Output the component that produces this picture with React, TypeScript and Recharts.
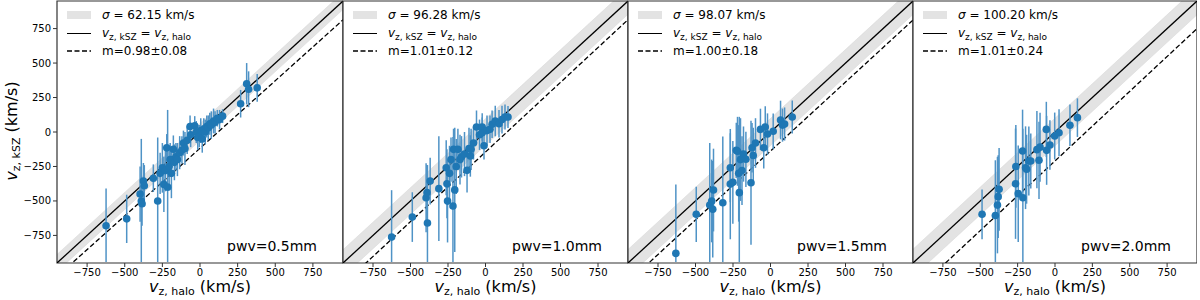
import React from 'react';
import { ComposedChart, Scatter, Line, Area, XAxis, YAxis, ErrorBar, ReferenceArea } from 'recharts';

// ---------- data ----------
const axisTicks = [-750, -500, -250, 0, 250, 500, 750];
const pwvLabels = ['pwv=0.5mm', 'pwv=1.0mm', 'pwv=1.5mm', 'pwv=2.0mm'];
const sigmaValues = [62.15, 96.28, 98.07, 100.2];
const sigmaLabels = ['62.15', '96.28', '98.07', '100.20'];
const slopeLabels = ['m=0.98±0.08', 'm=1.01±0.12', 'm=1.00±0.18', 'm=1.01±0.24'];
const fitSlopes = [0.98, 1.01, 1.0, 1.01];
const fitIntercepts = [-118, -145, -138, -210];

const p1Halo = [-624, -487, -398, -390, -385, -376, -370, -310, -281, -265, -250, -240, -230, -221, -215, -205, -198, -190, -177, -170, -160, -150, -135, -120, -110, -100, -85, -66, -62, -35, -25, -15, -5, 5, 15, 25, 35, 45, 55, 65, 75, 90, 100, 115, 130, 150, 270, 310, 323, 380];
const p1Ksz = [-680, -630, -450, -500, -520, -355, -390, -335, -500, -300, -260, -380, -280, -115, -400, -250, -200, -300, -125, -220, -180, -200, -150, -130, -80, -120, -60, 40, -20, 45, 0, -40, -30, 10, -50, 20, 0, 40, 30, 60, 50, 80, 70, 100, 90, 115, 205, 350, 310, 320];
const p1Err = [270, 175, 200, 450, 160, 130, 150, 100, 460, 150, 180, 200, 150, 100, 560, 150, 120, 180, 100, 130, 100, 120, 120, 100, 90, 120, 100, 80, 90, 70, 80, 90, 80, 90, 100, 80, 90, 80, 90, 80, 100, 90, 80, 60, 70, 50, 100, 150, 130, 100];

const p2Halo = [-626, -488, -396, -390, -387, -369, -311, -262, -257, -253, -240, -230, -217, -213, -205, -195, -184, -170, -160, -140, -123, -110, -101, -96, -80, -60, -40, -22, -22, -10, 10, 30, 44, 65, 90, 110, 130, 150];
const p2Ksz = [-762, -617, -477, -440, -660, -356, -411, -259, -376, -501, -300, -200, -537, -126, -420, -250, -126, -200, -180, -160, -278, -120, -174, -126, -80, 36, -20, 36, -5, -100, 10, 20, 56, 80, 60, 90, 109, 109];
const p2Err = [340, 180, 250, 200, 420, 170, 380, 200, 250, 300, 200, 160, 500, 150, 450, 200, 150, 180, 150, 160, 160, 150, 150, 150, 120, 120, 110, 100, 110, 100, 110, 100, 100, 110, 100, 100, 90, 80];

const p3Halo = [-631, -495, -405, -392, -385, -380, -318, -268, -268, -251, -228, -220, -212, -208, -200, -190, -180, -164, -130, -123, -115, -100, -67, -45, -35, -20, 18, 67, 80, 94, 145];
const p3Ksz = [-880, -597, -530, -500, -560, -421, -513, -259, -378, -365, -133, -140, -300, -440, -200, -280, -160, -198, -368, -114, -170, -80, 19, -114, 36, -15, 5, 87, 50, 58, 109];
const p3Err = [500, 200, 450, 300, 350, 300, 480, 250, 400, 300, 200, 250, 350, 550, 300, 250, 200, 200, 450, 180, 200, 180, 150, 150, 150, 150, 130, 140, 120, 120, 120];

const p4Halo = [-488, -399, -385, -380, -374, -264, -262, -246, -217, -215, -197, -190, -175, -162, -121, -107, -100, -58, -56, -34, -2, 27, 100, 150];
const p4Ksz = [-597, -605, -530, -469, -416, -375, -250, -447, -138, -477, -259, -270, -210, -210, -128, -205, -110, 19, -133, -94, -29, -5, 49, 104];
const p4Err = [180, 400, 350, 300, 300, 400, 300, 350, 300, 500, 300, 250, 250, 200, 280, 280, 250, 200, 250, 180, 170, 170, 150, 140];

const haloSets = [p1Halo, p2Halo, p3Halo, p4Halo];
const kszSets = [p1Ksz, p2Ksz, p3Ksz, p4Ksz];
const errSets = [p1Err, p2Err, p3Err, p4Err];

// ---------- layout ----------
const FONT = "'DejaVu Sans', sans-serif";
const BLUE = '#1f77b4';
const ERR_BLUE = '#4f93c6';
const SPINE = '#333333';
const BAND = '#e3e3e3';
const CHART_H = 300;
const MARGIN_TOP = 1;
const X_AXIS_H = 37;
const PLOT_H = CHART_H - X_AXIS_H - MARGIN_TOP;
const LIM = 950;

const panelGeom = [
  { chartLeft: 0, yAxisW: 57, plotW: 286 },
  { chartLeft: 337, yAxisW: 6, plotW: 285 },
  { chartLeft: 622, yAxisW: 6, plotW: 285 },
  { chartLeft: 907, yAxisW: 6, plotW: 284 },
];

const fmt = (v: number) => (v < 0 ? '\u2212' + Math.abs(v) : String(v));

const Dot = (p: any) => <circle cx={p.cx} cy={p.cy} r={3.8} fill={BLUE} />;

function Panel({ idx }: { idx: number }) {
  const g = panelGeom[idx];
  const s = sigmaValues[idx];
  const m = fitSlopes[idx];
  const b = fitIntercepts[idx];
  const lineData = [-1100, 1100].map((x) => ({
    x,
    band: [x - s, x + s],
    one: x,
    fit: m * x + b,
  }));
  const pts = haloSets[idx].map((x, i) => ({ x, y: kszSets[idx][i], err: errSets[idx][i] }));
  const plotLeft = g.chartLeft + g.yAxisW;
  return (
    <>
      <div style={{ position: 'absolute', left: g.chartLeft, top: 0 }}>
        <ComposedChart
          width={g.yAxisW + g.plotW}
          height={CHART_H}
          data={lineData}
          margin={{ top: MARGIN_TOP, right: 0, bottom: 0, left: 0 }}
        >
          <XAxis
            type="number"
            dataKey="x"
            domain={[-LIM, LIM]}
            allowDataOverflow
            ticks={axisTicks}
            interval={0}
            tickFormatter={fmt}
            height={X_AXIS_H}
            axisLine={false}
            tickSize={4}
            tickMargin={2}
            tickLine={{ stroke: SPINE }}
            tick={{ fontSize: 10, fill: '#000', fontFamily: FONT }}
          />
          <YAxis
            type="number"
            domain={[-LIM, LIM]}
            allowDataOverflow
            ticks={axisTicks}
            interval={0}
            tickFormatter={fmt}
            width={g.yAxisW}
            axisLine={false}
            tickSize={4}
            tickMargin={2}
            tickLine={{ stroke: SPINE }}
            tick={idx === 0 ? { fontSize: 10, fill: '#000', fontFamily: FONT } : false}
          />
          <Area
            dataKey="band"
            type="linear"
            fill={BAND}
            fillOpacity={1}
            stroke="#d4d4d4"
            strokeWidth={0.5}
            isAnimationActive={false}
            dot={false}
            activeDot={false}
          />
          <Line dataKey="one" type="linear" stroke="#000" strokeWidth={1.3} dot={false} activeDot={false} isAnimationActive={false} />
          <Line
            dataKey="fit"
            type="linear"
            stroke="#000"
            strokeWidth={1.3}
            strokeDasharray="5 2.5"
            dot={false}
            activeDot={false}
            isAnimationActive={false}
          />
          <ReferenceArea x1={-LIM} x2={LIM} y1={-LIM} y2={LIM} fill="none" stroke={SPINE} strokeWidth={1.2} ifOverflow="visible" />
        </ComposedChart>
      </div>
      {/* data points, clipped to the axes window */}
      <div style={{ position: 'absolute', left: plotLeft + 1, top: MARGIN_TOP + 1, width: g.plotW - 2, height: PLOT_H - 2, overflow: 'hidden' }}>
        <div style={{ position: 'absolute', left: -1, top: -1 }}>
          <ComposedChart width={g.plotW} height={PLOT_H} margin={{ top: 0, right: 0, bottom: 0, left: 0 }}>
            <XAxis type="number" dataKey="x" domain={[-LIM, LIM]} allowDataOverflow hide />
            <YAxis type="number" dataKey="y" domain={[-LIM, LIM]} allowDataOverflow hide />
            <Scatter data={pts} dataKey="y" shape={Dot} isAnimationActive={false}>
              <ErrorBar dataKey="err" direction="y" width={0} stroke={ERR_BLUE} strokeWidth={1.5} isAnimationActive={false} />
            </Scatter>
          </ComposedChart>
        </div>
      </div>
      {/* legend */}
      <div style={{ position: 'absolute', left: plotLeft + 10, top: 6, fontFamily: FONT, fontSize: 12, lineHeight: '18px', color: '#000' }}>
        <div style={{ display: 'flex', alignItems: 'center', height: 18 }}>
          <span style={{ display: 'inline-block', width: 24, height: 8, background: BAND, marginRight: 11 }} />
          <span>
            <i>σ</i> = {sigmaLabels[idx]} km/s
          </span>
        </div>
        <div style={{ display: 'flex', alignItems: 'center', height: 18 }}>
          <span style={{ display: 'inline-block', width: 24, height: 0, borderTop: '1.3px solid #000', marginRight: 11 }} />
          <span>
            <i>v</i>
            <span style={{ fontSize: 9, position: 'relative', top: 3 }}>z, kSZ</span> = <i>v</i>
            <span style={{ fontSize: 9, position: 'relative', top: 3 }}>z, halo</span>
          </span>
        </div>
        <div style={{ display: 'flex', alignItems: 'center', height: 18 }}>
          <svg width={24} height={4} style={{ marginRight: 11 }}>
            <line x1={0} y1={2} x2={24} y2={2} stroke="#000" strokeWidth={1.3} strokeDasharray="5 2.5" />
          </svg>
          <span>{slopeLabels[idx]}</span>
        </div>
      </div>
      {/* pwv label */}
      <div
        style={{
          position: 'absolute',
          left: plotLeft + g.plotW - 26 - 120,
          width: 120,
          textAlign: 'right',
          top: 237,
          fontFamily: FONT,
          fontSize: 14,
          lineHeight: '18px',
        }}
      >
        {pwvLabels[idx]}
      </div>
      {/* x label */}
      <div
        style={{
          position: 'absolute',
          left: plotLeft + g.plotW / 2 - 80,
          width: 160,
          textAlign: 'center',
          top: 277,
          fontFamily: FONT,
          fontSize: 16,
          lineHeight: '20px',
          whiteSpace: 'nowrap',
        }}
      >
        <i>v</i>
        <span style={{ fontSize: 11, position: 'relative', top: 3 }}>z, halo</span> (km/s)
      </div>
      {idx === 0 && (
        <div
          style={{
            position: 'absolute',
            left: 12 - 80,
            top: 131 - 10,
            width: 160,
            height: 20,
            textAlign: 'center',
            transform: 'rotate(-90deg)',
            fontFamily: FONT,
            fontSize: 16,
            lineHeight: '20px',
            whiteSpace: 'nowrap',
          }}
        >
          <i>v</i>
          <span style={{ fontSize: 11, position: 'relative', top: 3 }}>z, kSZ</span> (km/s)
        </div>
      )}
    </>
  );
}

export default function App() {
  return (
    <div style={{ position: 'absolute', left: 0, top: 0, width: 1200, height: 300, background: '#fff', overflow: 'hidden' }}>
      {[0, 1, 2, 3].map((i) => (
        <Panel key={i} idx={i} />
      ))}
    </div>
  );
}
